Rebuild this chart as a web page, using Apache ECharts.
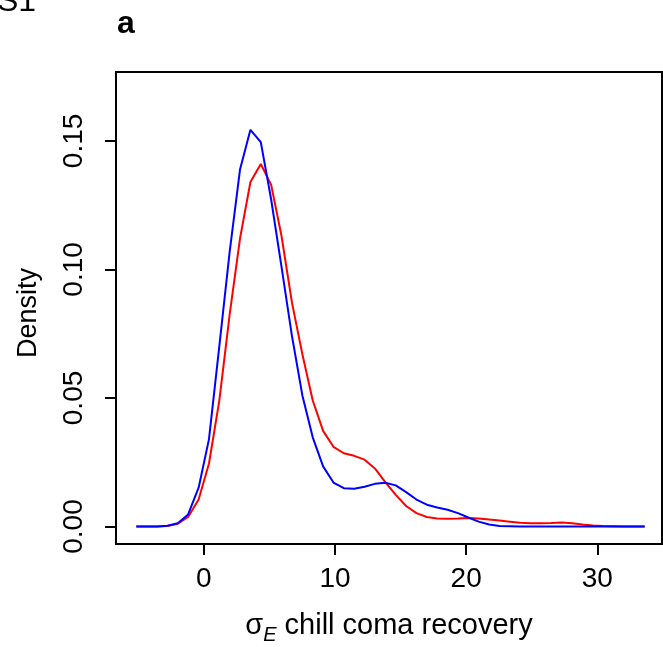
<!DOCTYPE html>
<html>
<head>
<meta charset="utf-8">
<script src="https://cdn.jsdelivr.net/npm/echarts@6/dist/echarts.min.js"></script>
<style>
html,body{margin:0;padding:0;background:#fff;}
#chart{width:663px;height:647px;}
</style>
</head>
<body>
<div id="chart"></div>
<script>
// density evaluation points (x)
var xs = [-5.15,-4.36,-3.57,-2.78,-1.99,-1.20,-0.40,0.39,1.18,1.97,
          2.76,3.55,4.34,5.13,5.92,6.72,7.51,8.30,9.09,9.88,
          10.67,11.46,12.25,13.04,13.83,14.63,15.42,16.21,17.00,17.79,
          18.58,19.37,20.16,20.95,21.75,22.54,23.33,24.12,24.91,25.70,
          26.49,27.28,28.08,28.87,29.66,30.45,31.24,32.03,32.82,33.61];
// red density
var redY = [0,0,0,0.0002,0.0011,0.0037,0.0105,0.0245,0.0491,0.0826,
            0.1122,0.1340,0.1410,0.1329,0.1130,0.0870,0.0670,0.0490,0.0372,0.0310,
            0.0285,0.0275,0.0260,0.0226,0.0173,0.0123,0.0080,0.0052,0.0037,0.0031,
            0.0030,0.0031,0.0033,0.0031,0.0027,0.0023,0.0019,0.0015,0.0013,0.0013,
            0.0014,0.0016,0.0013,0.0008,0.0004,0.0002,0.0001,0,0,0];
// blue density
var blueY = [0,0,0,0.0003,0.0013,0.0047,0.0151,0.0340,0.0703,0.1070,
             0.1390,0.1543,0.1495,0.1272,0.1010,0.0740,0.0510,0.0347,0.0234,0.0171,
             0.0149,0.0147,0.0155,0.0166,0.0170,0.0160,0.0134,0.0105,0.0085,0.0074,
             0.0065,0.0052,0.0035,0.0019,0.0008,0.0002,0.0001,0,0,0,
             0,0,0,0,0,0,0,0,0,0];
var xTicks = [0,10,20,30];
var yTicks = [0,0.05,0.10,0.15];
var yTickLabels = ['0.00','0.05','0.10','0.15'];

function pairs(ys){ return xs.map(function(x,i){ return [x, ys[i]]; }); }

var chart = echarts.init(document.getElementById('chart'), null, {renderer:'canvas'});
var font = "'Liberation Sans', Arial, Helvetica, sans-serif";
chart.setOption({
  animation:false,
  backgroundColor:'#fff',
  grid:{left:116, top:72, width:546, height:472, outerBoundsMode:'none', containLabel:false,
        show:true, borderColor:'#000', borderWidth:2, backgroundColor:'transparent'},
  graphic:[
    {type:'text', left:-3, top:-14, style:{text:'S1', font:"32px 'Liberation Sans', Arial, sans-serif", fill:'#000'}},
    {type:'text', left:117, top:8, style:{text:'a', font:"bold 32px 'Liberation Sans', Arial, sans-serif", fill:'#000'}}
  ],
  xAxis:{
    type:'value', min:-6.70, max:34.93,
    name:'{s|σ}{sub|E} chill coma recovery', nameLocation:'middle', nameGap:67,
    nameTextStyle:{fontSize:29, fontFamily:font, color:'#000',
      rich:{s:{fontSize:29, fontFamily:font, color:'#000'}, sub:{fontSize:20, fontFamily:font, fontStyle:'italic', color:'#000', verticalAlign:'bottom', padding:[0,0,-5,0]}}},
    splitLine:{show:false},
    axisLine:{show:true, onZero:false, lineStyle:{color:'#000', width:2}},
    axisTick:{show:true, customValues:xTicks, length:11, lineStyle:{color:'#000', width:2}},
    axisLabel:{show:true, customValues:xTicks, margin:21, fontSize:28, fontFamily:font, color:'#000'}
  },
  yAxis:{
    type:'value', min:-0.0068, max:0.1768,
    name:'Density', nameLocation:'middle', nameGap:74, nameRotate:90,
    nameTextStyle:{fontSize:27, fontFamily:font, color:'#000', padding:[0,10,0,0]},
    splitLine:{show:false},
    axisLine:{show:true, onZero:false, lineStyle:{color:'#000', width:2}},
    axisTick:{show:true, customValues:yTicks, length:11, lineStyle:{color:'#000', width:2}},
    axisLabel:{show:true, customValues:yTicks, rotate:90, margin:28, fontSize:28, fontFamily:font, color:'#000',
      formatter:function(v){ var i = yTicks.findIndex(function(t){return Math.abs(t-v)<1e-9;}); return i>=0 ? yTickLabels[i] : v.toFixed(2); }}
  },
  series:[
    {type:'line', data:pairs(redY), showSymbol:false, lineStyle:{color:'#FF0000', width:2}, itemStyle:{color:'#FF0000'}},
    {type:'line', data:pairs(blueY), showSymbol:false, lineStyle:{color:'#0000FF', width:2}, itemStyle:{color:'#0000FF'}}
  ]
});
</script>
</body>
</html>
